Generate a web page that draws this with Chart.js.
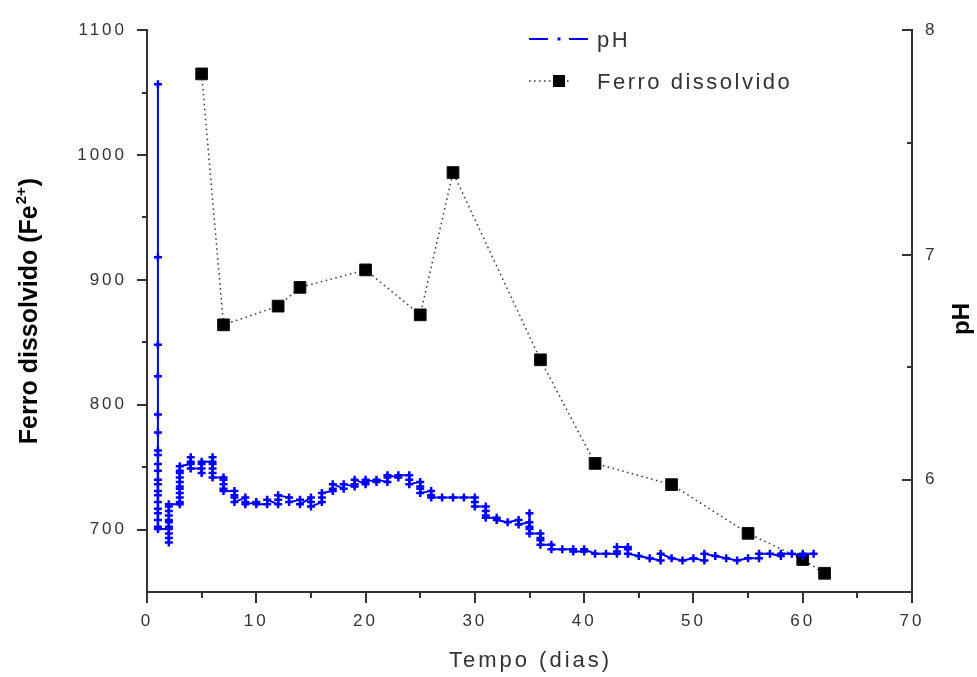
<!DOCTYPE html>
<html>
<head>
<meta charset="utf-8">
<script src="https://cdn.jsdelivr.net/npm/chart.js@4.4.1/dist/chart.umd.min.js"></script>
<style>
  html, body { margin: 0; padding: 0; background: #fff; }
  canvas { display: block; }
</style>
</head>
<body>
<canvas id="c" width="977" height="677"></canvas>
<script>
// Dissolved iron (Fe2+) sampling days and concentrations
const ferroDays = [5, 7, 12, 14, 20, 25, 28, 36, 41, 48, 55, 60, 62];
const ferroValues = [1065, 864, 879, 894, 908, 872, 986, 836, 753, 736, 697, 676, 665];

// pH readings: several readings per day, in the order they were logged
const phDays = [1, 2, 3, 4, 5, 6, 7, 8, 9, 10, 11, 12, 13, 14, 15, 16, 17, 18, 19, 20,
  21, 22, 23, 24, 25, 26, 27, 28, 29, 30, 31, 32, 33, 34, 35, 36, 37, 38, 39, 40,
  41, 42, 43, 44, 45, 46, 47, 48, 49, 50, 51, 52, 53, 54, 55, 56, 57, 58, 59, 60, 61];
const phReadings = [
  [7.76, 6.99, 6.60, 6.46, 6.29, 6.21, 6.13, 6.11, 6.07, 6.04, 6.00, 5.98, 5.95, 5.93, 5.90, 5.87, 5.85, 5.82, 5.79, 5.78],
  [5.78, 5.76, 5.74, 5.72, 5.79, 5.81, 5.82, 5.84, 5.86, 5.88, 5.89],
  [5.89, 5.90, 5.92, 5.94, 5.96, 5.97, 5.99, 6.01, 6.03, 6.04, 6.06],
  [6.07, 6.10, 6.08, 6.05],
  [6.05, 6.03, 6.07, 6.08],
  [6.08, 6.10, 6.07, 6.05, 6.03, 6.01],
  [6.01, 6.00, 5.98, 5.96, 5.95],
  [5.95, 5.93, 5.92, 5.90],
  [5.92, 5.90, 5.89],
  [5.90, 5.89],
  [5.89, 5.91],
  [5.89, 5.91, 5.93],
  [5.92, 5.90],
  [5.91, 5.89],
  [5.92, 5.90, 5.88],
  [5.90, 5.92, 5.94],
  [5.95, 5.96, 5.98],
  [5.96, 5.98],
  [5.97, 5.98, 6.00],
  [5.98, 5.99, 6.00],
  [5.99, 6.00],
  [5.99, 6.01, 6.02],
  [6.01, 6.02],
  [6.02, 6.00, 5.98],
  [5.99, 5.97, 5.96, 5.94],
  [5.95, 5.93, 5.92],
  [5.92],
  [5.92],
  [5.92],
  [5.92, 5.90, 5.88],
  [5.88, 5.86, 5.84, 5.83],
  [5.83, 5.82],
  [5.81],
  [5.82, 5.80],
  [5.81, 5.85, 5.79, 5.78, 5.76],
  [5.76, 5.74, 5.73, 5.71],
  [5.71, 5.69],
  [5.69],
  [5.69, 5.68],
  [5.68, 5.69],
  [5.67],
  [5.67],
  [5.67, 5.68, 5.70],
  [5.70, 5.69, 5.67],
  [5.66],
  [5.65],
  [5.64, 5.67],
  [5.65],
  [5.64],
  [5.65],
  [5.64, 5.67],
  [5.66],
  [5.65],
  [5.64],
  [5.65],
  [5.65, 5.67],
  [5.67],
  [5.66, 5.67],
  [5.67],
  [5.66, 5.67],
  [5.67]
];

// Axis ticks (major labelled, minor unlabelled)
const timeTicks = [0, 10, 20, 30, 40, 50, 60, 70];
const timeMinor = [5, 15, 25, 35, 45, 55, 65];
const ferroTicks = [700, 800, 900, 1000, 1100];
const ferroMinor = [750, 850, 950, 1050];
const phTicks = [6, 7, 8];
const phMinor = [6.5, 7.5];

const FONT = '"Liberation Sans", Arial, Helvetica, sans-serif';
const AXIS_GREY = '#333333';
const PH_BLUE = '#0000ff';

const phPoints = phDays.flatMap((d, i) => phReadings[i].map(v => ({ x: d, y: v })));
const ferroPoints = ferroDays.map((d, i) => ({ x: d, y: ferroValues[i] }));

// Tick marks, axis titles and legend
const decor = {
  id: 'decor',
  beforeLayout(chart) { chart.ctx.letterSpacing = '3px'; },
  beforeDraw(chart) { chart.ctx.letterSpacing = '3px'; },
  afterDraw(chart) {
    const ctx = chart.ctx;
    const { x, yL, yR } = chart.scales;
    const seg = (x1, y1, x2, y2) => { ctx.beginPath(); ctx.moveTo(x1, y1); ctx.lineTo(x2, y2); ctx.stroke(); };

    ctx.save();
    ctx.strokeStyle = AXIS_GREY;
    ctx.lineWidth = 2;
    // left axis: outward ticks
    ferroTicks.forEach(v => { const p = Math.round(yL.getPixelForValue(v)); seg(yL.right - 10, p, yL.right, p); });
    ferroMinor.forEach(v => { const p = Math.round(yL.getPixelForValue(v)); seg(yL.right - 5, p, yL.right, p); });
    // right axis: inward ticks
    phTicks.forEach(v => { const p = Math.round(yR.getPixelForValue(v)); seg(yR.left, p, yR.left - 10, p); });
    phMinor.forEach(v => { const p = Math.round(yR.getPixelForValue(v)); seg(yR.left, p, yR.left - 5, p); });
    // bottom axis: outward ticks
    timeTicks.forEach(v => { const p = Math.round(x.getPixelForValue(v)); seg(p, x.top, p, x.top + 11); });
    timeMinor.forEach(v => { const p = Math.round(x.getPixelForValue(v)); seg(p, x.top, p, x.top + 6); });
    ctx.restore();

    // left title with superscript charge
    ctx.save();
    ctx.letterSpacing = '0px';
    ctx.fillStyle = '#000';
    ctx.textAlign = 'left';
    ctx.textBaseline = 'alphabetic';
    const big = 'bold 25px ' + FONT, small = 'bold 15px ' + FONT;
    const t1 = 'Ferro dissolvido (Fe', t2 = '2+', t3 = ')';
    ctx.font = big; const w1 = ctx.measureText(t1).width, w3 = ctx.measureText(t3).width;
    ctx.font = small; const w2 = ctx.measureText(t2).width;
    ctx.translate(37, 312);
    ctx.rotate(-Math.PI / 2);
    let sx = -(w1 + w2 + w3) / 2;
    ctx.font = big; ctx.fillText(t1, sx, 0);
    ctx.font = small; ctx.fillText(t2, sx + w1 + 1, -11);
    ctx.font = big; ctx.fillText(t3, sx + w1 + w2 + 2, 0);
    ctx.restore();

    // right title
    ctx.save();
    ctx.letterSpacing = '0px';
    ctx.fillStyle = '#000';
    ctx.font = 'bold 24px ' + FONT;
    ctx.textAlign = 'center';
    ctx.textBaseline = 'alphabetic';
    ctx.translate(969, 319);
    ctx.rotate(-Math.PI / 2);
    ctx.fillText('pH', 0, 0);
    ctx.restore();

    // bottom title
    ctx.save();
    ctx.letterSpacing = '3px';
    ctx.fillStyle = AXIS_GREY;
    ctx.font = '22px ' + FONT;
    ctx.textAlign = 'center';
    ctx.textBaseline = 'alphabetic';
    ctx.fillText('Tempo (dias)', (x.left + x.right) / 2 + 1, 667);
    ctx.restore();

    // legend
    ctx.save();
    ctx.strokeStyle = PH_BLUE;
    ctx.lineWidth = 2;
    seg(529, 39, 548, 39);
    seg(569, 39, 588, 39);
    ctx.fillStyle = PH_BLUE;
    ctx.fillRect(557.5, 37.5, 3, 3);
    ctx.strokeStyle = '#333';
    ctx.lineWidth = 1.5;
    ctx.setLineDash([1.5, 3.5]);
    seg(529, 81, 551, 81);
    seg(567, 81, 571, 81);
    ctx.setLineDash([]);
    ctx.fillStyle = '#000';
    ctx.fillRect(553, 75, 12, 12);
    ctx.letterSpacing = '2.5px';
    ctx.fillStyle = AXIS_GREY;
    ctx.font = '22px ' + FONT;
    ctx.textAlign = 'left';
    ctx.textBaseline = 'alphabetic';
    ctx.fillText('pH', 597, 47);
    ctx.fillText('Ferro dissolvido', 597, 89);
    ctx.restore();
  }
};

const tickFont = { family: FONT, size: 17 };
const plainLabel = v => String(v);

new Chart(document.getElementById('c'), {
  type: 'line',
  data: {
    datasets: [
      {
        label: 'pH',
        data: phPoints,
        yAxisID: 'yR',
        borderColor: PH_BLUE,
        backgroundColor: PH_BLUE,
        borderWidth: 2,
        pointStyle: 'cross',
        pointRadius: 4,
        pointBorderWidth: 2.5,
        pointBorderColor: PH_BLUE,
        tension: 0,
        fill: false
      },
      {
        label: 'Ferro dissolvido',
        data: ferroPoints,
        yAxisID: 'yL',
        borderColor: '#333',
        borderWidth: 1.5,
        borderDash: [1.5, 3.5],
        pointStyle: 'rect',
        pointRadius: 8.3,
        pointBackgroundColor: '#000',
        pointBorderColor: '#111',
        pointBorderWidth: 1,
        tension: 0,
        fill: false
      }
    ]
  },
  options: {
    responsive: false,
    animation: false,
    devicePixelRatio: 1,
    layout: { padding: { top: 25, left: 0, right: 0, bottom: 0 } },
    plugins: {
      legend: { display: false },
      tooltip: { enabled: false }
    },
    scales: {
      x: {
        type: 'linear',
        position: 'bottom',
        min: 0,
        max: 70,
        afterBuildTicks: s => { s.ticks = timeTicks.map(v => ({ value: v })); },
        afterFit: s => { s.height = 85; },
        ticks: { color: AXIS_GREY, font: tickFont, padding: 19, maxRotation: 0, autoSkip: false, callback: plainLabel },
        grid: { display: true, drawOnChartArea: false, drawTicks: false },
        border: { display: true, color: AXIS_GREY, width: 2 }
      },
      yL: {
        type: 'linear',
        position: 'left',
        min: 650,
        max: 1100,
        afterBuildTicks: s => { s.ticks = ferroTicks.map(v => ({ value: v })); },
        afterFit: s => { s.width = 147; },
        ticks: { color: AXIS_GREY, font: tickFont, padding: 20, callback: plainLabel },
        grid: { display: true, drawOnChartArea: false, drawTicks: false },
        border: { display: true, color: AXIS_GREY, width: 2 }
      },
      yR: {
        type: 'linear',
        position: 'right',
        min: 5.5,
        max: 8,
        afterBuildTicks: s => { s.ticks = phTicks.map(v => ({ value: v })); },
        afterFit: s => { s.width = 65; },
        ticks: { color: AXIS_GREY, font: tickFont, padding: 13, callback: plainLabel },
        grid: { display: true, drawOnChartArea: false, drawTicks: false },
        border: { display: true, color: AXIS_GREY, width: 2 }
      }
    }
  },
  plugins: [decor]
});
</script>
</body>
</html>
